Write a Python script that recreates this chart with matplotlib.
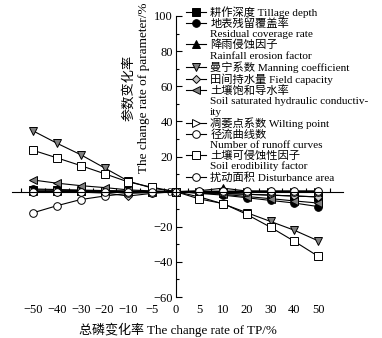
import matplotlib
matplotlib.use("Agg")
import matplotlib.pyplot as plt
from matplotlib.lines import Line2D
import numpy as np

plt.rcParams["font.family"] = ["Liberation Serif", "Noto Sans CJK SC"]
plt.rcParams["font.size"] = 9

tp_change = ["−50", "−40", "−30", "−20", "−10", "−5", "0", "5", "10", "20", "30", "40", "50"]

tillage = [1.0, 0.8, 0.6, 0.4, 0.2, 0.1, 0, -0.5, -1.0, -1.5, -2.0, -2.5, -3.0]
residual = [1.5, 1.2, 0.9, 0.6, 0.3, 0.1, 0, -1.0, -2.0, -3.5, -5.0, -6.5, -8.5]
rainfall = [0.3, 0.3, 0.2, 0.2, 0.1, 0, 0, 0.5, 2.0, 0.3, 0.3, 0.3, 0.3]
manning = [34.5, 27.5, 21.0, 13.5, 6.0, 2.0, 0, -3.0, -7.0, -12.0, -17.0, -22.0, -28.0]
field_cap = [0, 0, -0.3, -0.8, -2.5, -1.0, 0, -0.5, -1.0, -1.5, -2.0, -2.5, -3.0]
soil_sat = [6.6, 4.8, 3.4, 2.3, 1.0, 0.4, 0, -0.7, -1.5, -2.8, -4.0, -5.3, -6.5]
wilting = [0.3, 0.2, 0.2, 0.1, 0.1, 0, 0, 0, 0, 0, 0, 0, 0]
runoff = [-12.0, -8.0, -4.5, -2.5, -1.0, -0.5, 0, 0, 0, 0, 0, 0, 0]
erodibility = [23.5, 19.2, 14.8, 10.2, 5.5, 2.5, 0, -4.2, -6.8, -13.0, -20.3, -28.3, -36.8]
disturbance = [0, 0, 0, 0, 0, 0, 0, 0.2, 0.3, 0.3, 0.3, 0.3, 0.3]

series = [
    (tillage, ["耕作深度 Tillage depth"], "s", "black"),
    (residual, ["地表残留覆盖率", "Residual coverage rate"], "o", "black"),
    (rainfall, ["降雨侵蚀因子", "Rainfall erosion factor"], "^", "black"),
    (manning, ["曼宁系数 Manning coefficient"], "v", "#7f7f7f"),
    (field_cap, ["田间持水量 Field capacity"], "D", "#c8c8c8"),
    (soil_sat, ["土壤饱和导水率", "Soil saturated hydraulic conductiv-", "ity"], "<", "#7f7f7f"),
    (wilting, ["凋萎点系数 Wilting point"], ">", "white"),
    (runoff, ["径流曲线数", "Number of runoff curves"], "o", "white"),
    (erodibility, ["土壤可侵蚀性因子", "Soil erodibility factor"], "s", "white"),
    (disturbance, ["扰动面积 Disturbance area"], "o", "white"),
]

fig = plt.figure(figsize=(3.82, 3.38), dpi=100)
ax = fig.add_axes([12 / 382, 1 - 297 / 338, (343 - 12) / 382, (297 - 16) / 338])

x = np.arange(len(tp_change))
handles, labels = [], []
for vals, names, mk, fc in series:
    ms = 4.2 if mk == "D" else 5.5
    (ln,) = ax.plot(x, vals, color="black", lw=0.8, marker=mk, ms=ms,
                    mfc=fc, mec="black", mew=0.7)
    handles.append(ln)
    labels.append(names[0])
    for extra in names[1:]:
        handles.append(Line2D([], [], lw=0, marker=None))
        labels.append(extra)

ax.set_xlim(-0.9, 13.05)
ax.set_ylim(-60, 100)
for s in ["top", "right"]:
    ax.spines[s].set_visible(False)
ax.spines["left"].set_position(("data", 6))
ax.spines["bottom"].set_position(("data", 0))
ax.spines["left"].set_linewidth(0.8)
ax.spines["bottom"].set_linewidth(0.8)

ax.set_yticks(np.arange(-60, 101, 20))
ax.set_yticks(np.arange(-60, 101, 10), minor=True)
ax.set_yticklabels(["−60", "−40", "−20", "0", "20", "40", "60", "80", "100"])
ax.tick_params(axis="y", which="major", direction="in", length=4, width=0.8, pad=2,
               labelsize=9)
ax.tick_params(axis="y", which="minor", direction="in", length=2.5, width=0.8)

ax.set_xticks(x)
ax.set_xticklabels(tp_change)
ax.set_xticks(np.arange(-0.5, 13, 1), minor=True)
ax.tick_params(axis="x", which="major", length=0, pad=81, labelsize=9)
ax.tick_params(axis="x", which="minor", direction="in", length=3, width=0.8)

fig.text(178 / 382, 1 - 330 / 338, "总磷变化率 The change rate of TP/%",
         ha="center", va="center", fontsize=9.4)
fig.text(136 / 382, 1 - 88 / 338, "参数变化率\nThe change rate of parameter/%",
         ha="center", va="center", rotation=90, fontsize=9.5, linespacing=1.3,
         multialignment="center")

fig.legend(handles, labels, loc="upper left", bbox_to_anchor=(186 / 382, 1 - 6 / 338),
           frameon=False, fontsize=8.1, borderpad=0, labelspacing=0.04,
           handlelength=1.75, handletextpad=0.4, borderaxespad=0)

fig.savefig("out.png", dpi=100)
